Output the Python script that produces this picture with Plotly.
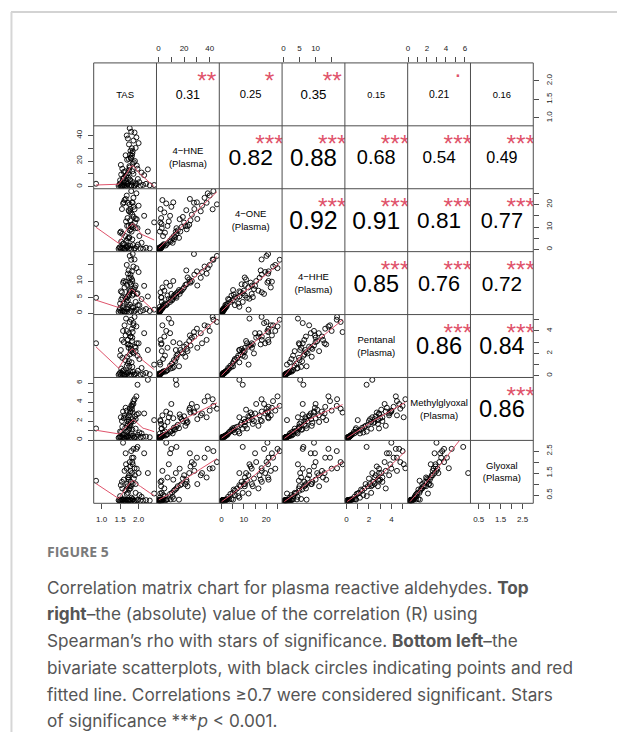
import numpy as np
import plotly.graph_objects as go

# ---------------------------------------------------------------- data
# one value per subject, same subject order in every list
tas = [0.85, 1.52, 1.58, 1.62, 1.55, 1.70, 1.74, 1.48, 1.66, 1.80,
       1.85, 1.90, 1.57, 1.63, 1.95, 2.05, 1.77, 1.50, 1.68, 2.12,
       1.60, 1.72, 1.88, 2.20, 1.53, 1.83, 1.98, 2.30, 1.46, 1.75,
       2.42, 1.55, 1.62, 1.70, 1.58, 1.78, 1.66, 1.92, 1.50, 1.86,
       1.73, 2.02, 1.60, 1.81, 2.15, 1.64, 1.76, 1.84, 1.71, 1.90,
       1.56, 1.79, 1.68, 1.95, 1.82, 1.74, 1.87, 2.08, 1.52, 1.69,
       1.97, 1.77, 2.25, 1.78, 1.82, 1.74, 1.86, 1.80, 1.76, 1.84,
       1.71, 1.89, 1.73, 1.92, 1.79, 1.68, 1.83, 2.00, 1.65, 1.94]
hne = [2.3, 0.4, 0.8, 1.2, 0.3, 2.1, 0.6, 1.6, 2.8, 0.5,
       3.5, 1.0, 4.2, 0.2, 1.8, 0.9, 5.5, 2.5, 0.7, 1.4,
       7.0, 3.0, 0.35, 2.2, 9.5, 12.0, 6.0, 1.1, 0.6, 16.0,
       1.3, 1.5, 3.0, 2.0, 6.0, 4.5, 8.0, 2.5, 5.0, 10.0,
       7.0, 3.5, 11.5, 1.0, 9.0, 12.0, 15.0, 18.0, 10.5, 20.0,
       14.0, 22.0, 9.0, 16.5, 24.0, 13.0, 19.0, 11.0, 17.0, 21.0,
       14.0, 25.0, 13.5, 28.0, 30.0, 33.0, 36.0, 42.9, 45.7, 27.7,
       37.6, 42.3, 21.7, 30.3, 22.7, 40.0, 26.0, 34.0, 24.5, 38.5]
one = [11.4, 0.2, 0.5, 0.3, 0.8, 1.1, 0.4, 0.9, 1.5, 0.2,
       2.0, 0.6, 2.4, 0.1, 1.3, 0.4, 1.8, 1.0, 0.7, 0.3,
       2.8, 1.6, 0.15, 0.8, 3.5, 4.5, 2.2, 0.5, 0.3, 5.2,
       12.1, 18.0, 22.0, 14.0, 20.5, 16.5, 12.5, 9.5, 7.5, 19.0,
       10.5, 6.0, 21.0, 8.0, 15.0, 6.0, 8.5, 10.0, 5.0, 12.0,
       7.0, 9.0, 4.0, 13.5, 11.0, 5.5, 14.5, 3.0, 8.0, 10.5,
       9.5, 13.0, 8.0, 18.0, 21.0, 17.0, 23.0, 26.0, 20.1, 20.8,
       20.8, 17.9, 17.5, 13.6, 10.4, 24.0, 15.5, 19.5, 22.5, 25.0]
hhe = [4.8, 0.4, 0.6, 0.5, 0.9, 1.2, 0.3, 1.0, 1.4, 0.7,
       1.8, 0.8, 2.2, 0.35, 1.1, 0.6, 2.6, 1.5, 0.45, 0.9,
       3.0, 1.9, 0.5, 1.3, 4.2, 5.5, 2.5, 0.7, 0.4, 7.2,
       1.1, 6.5, 8.0, 5.0, 9.5, 7.0, 4.5, 3.5, 3.0, 6.0,
       5.5, 2.5, 10.0, 2.0, 8.5, 5.0, 6.5, 7.0, 4.0, 8.0,
       4.8, 9.0, 3.5, 6.0, 10.5, 5.8, 7.5, 4.4, 6.8, 8.8,
       6.2, 9.5, 5.2, 12.0, 13.0, 11.0, 14.5, 16.6, 17.8, 18.4,
       12.3, 16.7, 13.3, 8.6, 11.1, 15.0, 10.0, 12.8, 9.8, 14.0]
pentanal = [2.9, 0.08, 0.12, 0.10, 0.20, 0.25, 0.06, 0.18, 0.30, 0.09,
            0.35, 0.15, 0.42, 0.07, 0.22, 0.11, 0.38, 0.28, 0.13, 0.16,
            0.50, 0.32, 0.08, 0.26, 0.65, 0.80, 0.45, 0.14, 0.09, 0.85,
            1.0, 3.2, 4.5, 2.8, 4.0, 3.5, 5.1, 2.2, 1.8, 4.7,
            2.5, 1.5, 3.0, 1.2, 3.8, 1.4, 1.9, 2.1, 1.1, 2.6,
            1.6, 2.4, 0.9, 2.9, 3.1, 1.3, 2.0, 0.7, 2.3, 1.7,
            1.79, 2.7, 2.3, 3.5, 4.2, 3.8, 4.5, 5.0, 4.8, 3.9,
            3.2, 5.25, 2.8, 2.5, 2.2, 4.0, 3.4, 2.9, 3.6, 4.4]
methylglyoxal = [1.22, 0.25, 0.28, 0.22, 0.30, 0.35, 0.24, 0.27, 0.40, 0.26,
                 0.45, 0.31, 0.52, 0.21, 0.33, 0.29, 0.48, 0.38, 0.26, 0.34,
                 0.60, 0.42, 0.23, 0.36, 0.85, 1.10, 0.55, 0.30, 0.24, 1.25,
                 2.1, 2.0, 2.6, 1.7, 3.0, 1.5, 2.4, 1.2, 0.9, 3.8,
                 1.9, 0.8, 2.3, 0.7, 2.8, 1.3, 1.6, 2.2, 1.0, 2.5,
                 1.4, 1.8, 0.9, 2.7, 3.2, 1.1, 2.0, 0.7, 2.4, 1.5,
                 5.82, 2.9, 6.34, 3.0, 3.5, 2.6, 4.1, 3.6, 3.3, 2.9,
                 2.4, 4.3, 2.1, 2.2, 1.9, 3.1, 3.8, 2.8, 3.4, 4.6]
glyoxal = [1.15, 0.25, 0.26, 0.24, 0.27, 0.25, 0.23, 0.26, 0.28, 0.25,
           0.30, 0.24, 0.29, 0.23, 0.26, 0.25, 0.27, 0.24, 0.28, 0.25,
           0.31, 0.26, 0.24, 0.27, 0.30, 0.32, 0.28, 0.25, 0.26, 0.29,
           0.57, 1.1, 1.6, 0.9, 2.88, 0.8, 1.9, 0.6, 0.45, 2.6,
           1.3, 0.5, 1.2, 0.38, 2.4, 0.7, 0.9, 1.0, 0.6, 1.4,
           0.8, 1.1, 0.55, 1.7, 1.5, 0.75, 1.25, 0.42, 0.95, 1.0,
           2.69, 1.8, 1.50, 1.6, 2.2, 1.4, 2.2, 2.5, 2.0, 1.9,
           1.3, 1.72, 1.2, 1.0, 0.9, 1.7, 2.0, 1.5, 2.4, 2.6]

diagonal_labels = ["TAS", "4−HNE<br>(Plasma)", "4−ONE<br>(Plasma)", "4−HHE<br>(Plasma)",
                   "Pentanal<br>(Plasma)", "Methylglyoxal<br>(Plasma)", "Glyoxal<br>(Plasma)"]

# Spearman |rho| for the upper triangle, row by row
rho_values = [0.31, 0.25, 0.35, 0.15, 0.21, 0.16,
              0.82, 0.88, 0.68, 0.54, 0.49,
              0.92, 0.91, 0.81, 0.77,
              0.85, 0.76, 0.72,
              0.86, 0.84,
              0.86]
rho_stars = ["**", "*", "**", "", ".", "",
             "***", "***", "***", "***", "***",
             "***", "***", "***", "***",
             "***", "***", "***",
             "***", "***",
             "***"]

# tick positions and their printed labels (unlabelled ticks have "")
tas_ticks, tas_ticktext = [1.0, 1.5, 2.0], ["1.0", "1.5", "2.0"]
hne_ticks, hne_ticktext = [0, 10, 20, 30, 40], ["0", "", "20", "", "40"]
one_ticks, one_ticktext = [0, 5, 10, 15, 20, 25], ["0", "", "10", "", "20", ""]
hhe_ticks, hhe_ticktext = [0, 5, 10, 15], ["0", "5", "10", ""]
pent_ticks, pent_ticktext = [0, 1, 2, 3, 4, 5], ["0", "", "2", "", "4", ""]
mg_ticks, mg_ticktext = [0, 1, 2, 3, 4, 5, 6], ["0", "", "2", "", "4", "", "6"]
gly_ticks, gly_ticktext = [0.5, 1.0, 1.5, 2.0, 2.5], ["0.5", "", "1.5", "", "2.5"]

caption_lines = [
    "Correlation matrix chart for plasma reactive aldehydes. <b>Top</b>",
    "<b>right</b>–the (absolute) value of the correlation (R) using",
    "Spearman’s rho with stars of significance. <b>Bottom left</b>–the",
    "bivariate scatterplots, with black circles indicating points and red",
    "fitted line. Correlations ≥0.7 were considered significant. Stars",
    "of significance ***<i>p</i> &lt; 0.001.",
]

# ---------------------------------------------------------------- helpers
columns = [np.array(v, float) for v in (tas, hne, one, hhe, pentanal, methylglyoxal, glyoxal)]
ticks = [(tas_ticks, tas_ticktext), (hne_ticks, hne_ticktext), (one_ticks, one_ticktext),
         (hhe_ticks, hhe_ticktext), (pent_ticks, pent_ticktext), (mg_ticks, mg_ticktext),
         (gly_ticks, gly_ticktext)]
N = len(columns)


def lowess(x, y, f=2 / 3, iters=3):
    """Cleveland's robust locally weighted regression (as in R's lowess)."""
    order = np.argsort(x, kind="mergesort")
    xs, ys = x[order], y[order]
    n = len(xs)
    ns = max(2, min(n, int(f * n + 1e-7)))
    span = xs[-1] - xs[0]
    fitted = np.empty(n)
    robust = np.ones(n)
    for it in range(iters + 1):
        for i in range(n):
            d = np.abs(xs - xs[i])
            h = np.sort(d)[ns - 1]
            with np.errstate(divide="ignore", invalid="ignore"):
                w = np.where(d <= 0.999 * h,
                             np.where(d <= 0.001 * h, 1.0, (1 - (d / h) ** 3) ** 3), 0.0)
            w = w * robust
            if w.sum() <= 0:
                fitted[i] = ys[i]
                continue
            w = w / w.sum()
            if h > 0:
                a = np.sum(w * xs)
                c = np.sum(w * (xs - a) ** 2)
                if np.sqrt(c) > 0.001 * span:
                    b = (xs[i] - a) / c
                    w = w * (b * (xs - a) + 1.0)
            fitted[i] = np.sum(w * ys)
        if it == iters:
            break
        res = ys - fitted
        cmad = 6.0 * np.median(np.abs(res))
        if cmad < 1e-7 * np.mean(np.abs(ys)):
            break
        u = np.abs(res) / cmad
        robust = np.where(u < 1, (1 - u ** 2) ** 2, 0.0)
    return xs, fitted


def axis_range(v):
    lo, hi = v.min(), v.max()
    pad = 0.04 * (hi - lo)
    return [lo - pad, hi + pad]


ranges = [axis_range(v) for v in columns]

# page geometry (pixels)
W, H = 617, 733
LEFT, TOP, CELL = 92, 63, 63
FONT = "Liberation Sans"
FRAME = "#4d4d4d"
RED = "#DF536B"
BASE_PX = 26.5       # numbers scale from this with |rho|
STAR_PX = 24.5
LABEL_PX = 9.5


def xdom(j):
    return [(LEFT + j * CELL) / W, (LEFT + (j + 1) * CELL) / W]


def ydom(i):
    return [1 - (TOP + (i + 1) * CELL) / H, 1 - (TOP + i * CELL) / H]


def aid(k):
    return "" if k == 0 else str(k + 1)


def frac(k, t):
    lo, hi = ranges[k]
    return lo + t * (hi - lo)


# vertical correction (in em) so each string's ink is centred on its anchor
INK_SHIFT = {"digits": -0.108, "stars": -0.31, "dot": 0.20}

fig = go.Figure()

# lower triangle: scatter + lowess smooth
for i in range(N):
    for j in range(i):
        xa, ya = "x" + aid(j), "y" + aid(i)
        fig.add_trace(go.Scatter(
            x=columns[j], y=columns[i], mode="markers", xaxis=xa, yaxis=ya,
            marker=dict(symbol="circle-open", size=5, color="black", line=dict(width=0.9)),
            hoverinfo="skip", cliponaxis=True))
        sx, sy = lowess(columns[j], columns[i])
        fig.add_trace(go.Scatter(
            x=sx, y=sy, mode="lines", xaxis=xa, yaxis=ya,
            line=dict(color=RED, width=1), hoverinfo="skip", cliponaxis=True))

# upper triangle: |rho| and stars
k = 0
for i in range(N):
    for j in range(i + 1, N):
        xa, ya = "x" + aid(j), "y" + aid(i)
        r = rho_values[k]
        size = BASE_PX * (abs(r) + 0.3) / 1.3
        ty = 0.5 + INK_SHIFT["digits"] * size / CELL
        fig.add_trace(go.Scatter(
            x=[frac(j, 0.5)], y=[frac(i, ty)], mode="text", text=[f"{r:.2f}"],
            textposition="middle center", xaxis=xa, yaxis=ya,
            textfont=dict(family=FONT, size=size, color="black"),
            hoverinfo="skip", cliponaxis=True))
        s = rho_stars[k]
        if s:
            kind = "dot" if s == "." else "stars"
            sy = 0.8 + INK_SHIFT[kind] * STAR_PX / CELL
            fig.add_trace(go.Scatter(
                x=[frac(j, 0.8)], y=[frac(i, sy)], mode="text", text=[s],
                textposition="middle center", xaxis=xa, yaxis=ya,
                textfont=dict(family=FONT, size=STAR_PX, color=RED),
                hoverinfo="skip", cliponaxis=True))
        k += 1

# diagonal: variable names
for i in range(N):
    xa, ya = "x" + aid(i), "y" + aid(i)
    ty = 0.5 + INK_SHIFT["digits"] * LABEL_PX / CELL
    fig.add_trace(go.Scatter(
        x=[frac(i, 0.5)], y=[frac(i, ty)], mode="text", text=[diagonal_labels[i]],
        textposition="middle center", xaxis=xa, yaxis=ya,
        textfont=dict(family=FONT, size=LABEL_PX, color="black"),
        hoverinfo="skip", cliponaxis=False))

axis_common = dict(showgrid=False, zeroline=False, showline=False,
                   ticks="outside", ticklen=5, tickwidth=1,
                   tickcolor=FRAME, tickfont=dict(family=FONT, size=8, color="#222"),
                   fixedrange=True, ticklabelstandoff=3)
layout_axes = {}
for c in range(N):
    tv, tt = ticks[c]
    xa = dict(axis_common, domain=xdom(c), range=ranges[c], tickvals=tv, ticktext=tt)
    if c % 2 == 0:
        xa.update(anchor="y" + aid(N - 1), side="bottom")
    else:
        xa.update(anchor="y", side="top")
    layout_axes["xaxis" + aid(c)] = xa
    ya = dict(axis_common, domain=ydom(c), range=ranges[c], tickvals=tv, ticktext=tt,
              tickangle=-90)
    if c % 2 == 0:
        ya.update(anchor="x" + aid(N - 1), side="right")
    else:
        ya.update(anchor="x", side="left")
    layout_axes["yaxis" + aid(c)] = ya

annotations = [dict(text="<b>FIGURE 5</b>", x=43 / W, y=1 - 552 / H, xref="paper", yref="paper",
                    xanchor="left", yanchor="middle", showarrow=False,
                    font=dict(family="Open Sans", size=14, color="#7a7a7a"))]
caption_y = [588, 614.5, 641, 668, 695, 721]
for line, cy in zip(caption_lines, caption_y):
    annotations.append(dict(text=line, x=43 / W, y=1 - cy / H, xref="paper", yref="paper",
                            xanchor="left", yanchor="middle", showarrow=False,
                            font=dict(family="Inter", size=17.2, color="#555555")))

# page rules
shapes = [
    dict(type="line", xref="paper", yref="paper", x0=9 / W, x1=1, y0=1 - 12 / H, y1=1 - 12 / H,
         line=dict(color="#c4c4c4", width=1.5)),
    dict(type="line", xref="paper", yref="paper", x0=9.5 / W, x1=9.5 / W, y0=0, y1=1 - 12 / H,
         line=dict(color="#d6d6d6", width=2)),
]
# panel frames
for g in range(N + 1):
    gx = (LEFT + g * CELL) / W
    gy = 1 - (TOP + g * CELL) / H
    shapes.append(dict(type="line", xref="paper", yref="paper", layer="above",
                       x0=gx, x1=gx, y0=ydom(N - 1)[0], y1=ydom(0)[1],
                       line=dict(color=FRAME, width=1)))
    shapes.append(dict(type="line", xref="paper", yref="paper", layer="above",
                       x0=xdom(0)[0], x1=xdom(N - 1)[1], y0=gy, y1=gy,
                       line=dict(color=FRAME, width=1)))

fig.update_layout(width=W, height=H, margin=dict(l=0, r=0, t=0, b=0),
                  paper_bgcolor="white", plot_bgcolor="white", showlegend=False,
                  annotations=annotations, shapes=shapes, **layout_axes)

fig.write_html("out.html")
